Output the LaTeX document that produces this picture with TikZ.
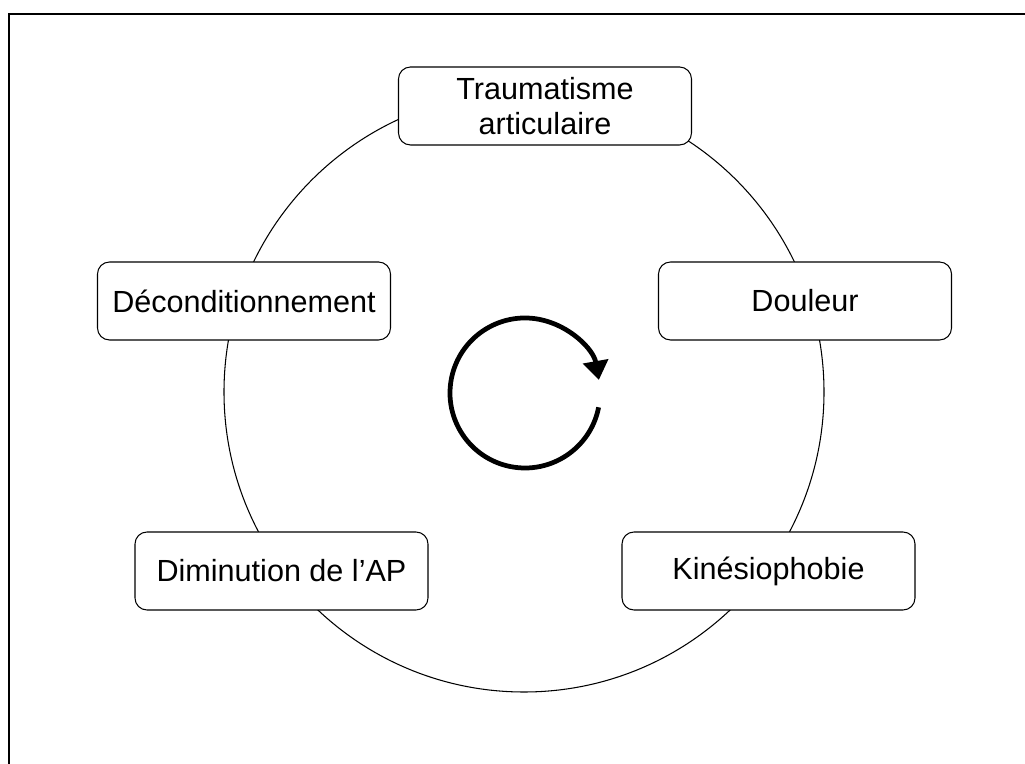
\documentclass[tikz,border=0pt]{standalone}
\usepackage{fontspec}
\setmainfont{Liberation Sans}
\usetikzlibrary{arrows.meta}

\tikzset{
    etape/.style={draw, fill=white, rounded corners=0.24cm, line width=0.6pt,
        minimum width=5.86cm, minimum height=1.56cm, inner sep=0pt,
        align=center, font=\fontsize{17.4}{19.8}\selectfont},
    cycle/.style={line width=2.7pt, -{Triangle[length=0.38cm,width=0.5cm]}}
}

\begin{document}
\begin{tikzpicture}
    \useasboundingbox (0,0) rectangle (20.5,15.28);
    \draw[line width=1.1pt] (0.18,0) -- (0.18,15) -- (20.5,15);
    \draw[line width=0.6pt] (10.48,7.44) circle (6);

    \node[etape] (trauma) at (10.9,13.16) {Traumatisme\\articulaire};
    \node[etape] (douleur) at (16.1,9.26) {Douleur};
    \node[etape] (kinesio) at (15.37,3.86) {Kinésiophobie};
    \node[etape] (diminution) at (5.63,3.86) {Diminution de l’AP};
    \node[etape] (decond) at (4.88,9.26) {Déconditionnement};

    \coordinate (centre) at (10.5,7.42);
    \draw[cycle] (centre) ++(-11:1.5) arc[start angle=-11, end angle=-350, radius=1.5];

\end{tikzpicture}
\end{document}
